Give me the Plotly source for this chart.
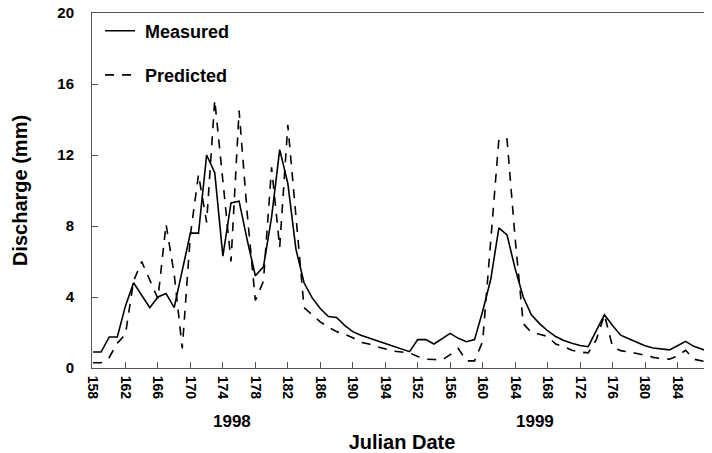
import plotly.graph_objects as go

# Julian day labels (1998 season followed by 1999 season)
days_1998 = list(range(158, 198))
days_1999 = list(range(152, 189))
day_labels = days_1998 + days_1999

measured = [0.9, 0.9, 1.75, 1.75, 3.5, 4.8, 4.1, 3.4, 4.0, 4.2,
            3.4, 5.5, 7.6, 7.6, 12.0, 11.0, 6.3, 9.3, 9.4, 7.2,
            5.2, 5.7, 8.5, 12.3, 10.4, 6.7, 4.8, 3.95, 3.35, 2.9,
            2.85, 2.4, 2.05, 1.85, 1.68, 1.52, 1.38, 1.22, 1.08, 0.92,
            1.6, 1.6, 1.35, 1.65, 1.95, 1.67, 1.48, 1.6, 3.2, 5.0,
            7.9, 7.5, 5.6, 4.0, 3.0, 2.5, 2.1, 1.77, 1.55, 1.4,
            1.27, 1.2, 2.1, 3.0, 2.4, 1.85, 1.65, 1.45, 1.25, 1.13,
            1.08, 1.02, 1.25, 1.5, 1.22, 1.05, 0.9]

predicted = [0.3, 0.3, 0.6, 1.4, 1.9, 4.9, 6.0, 4.95, 3.9, 8.1,
             5.3, 1.1, 7.5, 10.9, 8.2, 15.1, 10.5, 6.0, 14.5, 8.7,
             3.8, 4.9, 11.3, 6.8, 13.7, 8.6, 3.4, 3.0, 2.6, 2.3,
             2.05, 1.9, 1.7, 1.45, 1.35, 1.2, 1.08, 0.95, 0.9, 0.85,
             0.65, 0.5, 0.48, 0.45, 0.75, 1.1, 0.4, 0.4, 1.5, 7.4,
             12.9, 12.9, 7.3, 2.5, 2.0, 1.9, 1.78, 1.35, 1.2, 1.0,
             0.9, 0.85, 1.6, 3.0, 1.2, 0.98, 0.92, 0.82, 0.72, 0.6,
             0.53, 0.5, 0.68, 1.0, 0.5, 0.38, 0.3]

year_labels = ["1998", "1999"]
year_centers = [17.1, 54.4]

idx = list(range(len(day_labels)))
tickvals = idx[::4]
ticktext = [str(day_labels[i]) for i in tickvals]

FONT = "Liberation Sans, Arial, sans-serif"
AXC = "#555555"

fig = go.Figure()
fig.add_trace(go.Scatter(x=idx, y=measured, mode="lines", name="\u00a0Measured",
                         line=dict(color="black", width=1.6), legend="legend"))
fig.add_trace(go.Scatter(x=idx, y=predicted, mode="lines", name="\u00a0Predicted",
                         line=dict(color="black", width=1.6, dash="9px,8px"), legend="legend2"))

for lab, xc in zip(year_labels, year_centers):
    fig.add_annotation(x=xc, y=-0.152, xref="x", yref="paper", text=lab, showarrow=False,
                       font=dict(family=FONT, size=17, color="black", weight="bold"),
                       xanchor="center", yanchor="middle")

# page body adds an 8px offset; figure sized to fill the rest of the window
fig.update_layout(
    width=704, height=445,
    margin=dict(l=84, r=0, t=5, b=85),
    paper_bgcolor="white", plot_bgcolor="white",
    font=dict(family=FONT, color="black"),
    showlegend=True,
    legend=dict(x=0.013, y=0.949, xanchor="left", yanchor="middle",
                font=dict(family=FONT, size=18, color="black", weight="bold"),
                bgcolor="rgba(0,0,0,0)"),
    legend2=dict(x=0.013, y=0.825, xanchor="left", yanchor="middle",
                 font=dict(family=FONT, size=18, color="black", weight="bold"),
                 bgcolor="rgba(0,0,0,0)"),
    xaxis=dict(range=[-0.12, 76.25], tickmode="array", tickvals=tickvals, ticktext=ticktext,
               tickangle=90, ticks="inside", ticklen=6, tickcolor=AXC,
               showline=True, linecolor=AXC, linewidth=1, mirror=True,
               showgrid=False, zeroline=False, automargin=False,
               ticklabeloverflow="allow", ticklabelstandoff=4,
               tickfont=dict(family=FONT, size=14, color="black", weight="bold"),
               title=dict(text="Julian Date", standoff=40,
                          font=dict(family=FONT, size=20, color="black", weight="bold"))),
    yaxis=dict(range=[0, 20], tickmode="linear", tick0=0, dtick=4,
               ticks="inside", ticklen=6, tickcolor=AXC,
               showline=True, linecolor=AXC, linewidth=1, mirror=False,
               showgrid=False, zeroline=False, automargin=False,
               ticklabelstandoff=14, ticklabeloverflow="allow",
               tickfont=dict(family=FONT, size=15, color="black", weight="bold"),
               title=dict(text="Discharge (mm)", standoff=24,
                          font=dict(family=FONT, size=20, color="black", weight="bold"))),
)

fig.write_html("out.html")
